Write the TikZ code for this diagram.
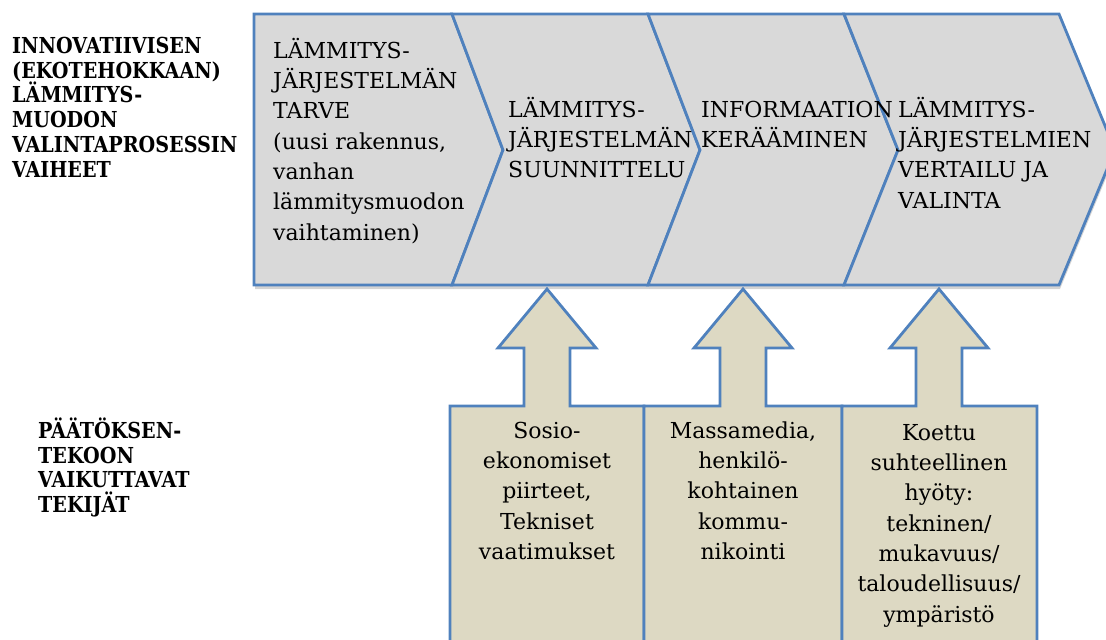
\documentclass[tikz,border=0pt]{standalone}
\usepackage{fontspec}
\setmainfont{DejaVu Serif}
\newfontfamily\sidefont[FakeStretch=0.87]{DejaVu Serif}
\usetikzlibrary{shadows}
\definecolor{chevfill}{HTML}{D9D9D9}
\definecolor{edgeblue}{HTML}{4F81BD}
\definecolor{tanfill}{HTML}{DDD9C3}
\newcommand{\toprule}[1]{\rule{0pt}{#1}}
\tikzset{
  chev/.style={fill=chevfill, draw=edgeblue, line width=2.8pt, line join=miter,
    drop shadow={opacity=0.35, shadow xshift=1pt, shadow yshift=-4pt}},
  factor/.style={fill=tanfill, draw=edgeblue, line width=2.8pt, line join=miter},
  chevtext/.style={anchor=north west, inner sep=0pt, align=left,
    font=\fontsize{22}{30.3}\selectfont},
  boxtext/.style={anchor=north, inner sep=0pt, align=center,
    font=\fontsize{22}{30.3}\selectfont},
  sidelabel/.style={anchor=north west, inner sep=0pt, align=left,
    font=\sidefont\fontsize{22}{24.8}\selectfont\bfseries},
}
\begin{document}
\begin{tikzpicture}[x=1pt,y=-1pt]
\useasboundingbox (0,0) rectangle (1106,640);
% chevrons
\draw[chev] (254,14) -- (452,14) -- (503,150) -- (452,285) -- (254,285) -- cycle;
\draw[chev] (452,14) -- (648,14) -- (700,150) -- (648,285) -- (452,285) -- (503,150) -- cycle;
\draw[chev] (648,14) -- (844,14) -- (898,150) -- (844,285) -- (648,285) -- (700,150) -- cycle;
\draw[chev] (844,14) -- (1059,14) -- (1115,150) -- (1059,285) -- (844,285) -- (898,150) -- cycle;
% chevron texts (first baseline = y + 22)
\node[chevtext] (c1) at (273,36) {\toprule{22pt}LÄMMITYS-\\JÄRJESTELMÄN\\TARVE\\(uusi rakennus,\\vanhan\\lämmitysmuodon\\vaihtaminen)};
\node[chevtext] (c2) at (508,95) {\toprule{22pt}LÄMMITYS-\\JÄRJESTELMÄN\\SUUNNITTELU};
\node[chevtext] (c3) at (701,95) {\toprule{22pt}INFORMAATION\\KERÄÄMINEN};
\node[chevtext] (c4) at (898,95) {\toprule{22pt}LÄMMITYS-\\JÄRJESTELMIEN\\VERTAILU JA\\VALINTA};
% factor boxes with arrows
\foreach \cx/\l/\r in {547/450/644, 743/644/842, 939/842/1037}{
  \draw[factor] (\l,645) -- (\l,406) -- (\cx-23,406) -- (\cx-23,348) -- (\cx-49,348)
    -- (\cx,289) -- (\cx+49,348) -- (\cx+23,348) -- (\cx+23,406) -- (\r,406) -- (\r,645);
}
\node[boxtext] (b1) at (547,416) {\toprule{22pt}Sosio-\\ekonomiset\\piirteet,\\Tekniset\\vaatimukset};
\node[boxtext] (b2) at (743,416) {\toprule{22pt}Massamedia,\\henkilö-\\kohtainen\\kommu-\\nikointi};
\node[boxtext] (b3) at (939,418) {\toprule{22pt}Koettu\\suhteellinen\\hyöty:\\tekninen/\\mukavuus/\\taloudellisuus/\\ympäristö};
% side labels (first baseline = y + 22)
\node[sidelabel] (s1) at (12,31) {\toprule{22pt}INNOVATIIVISEN\\(EKOTEHOKKAAN)\\LÄMMITYS-\\MUODON\\VALINTAPROSESSIN\\VAIHEET};
\node[sidelabel] (s2) at (38,416) {\toprule{22pt}PÄÄTÖKSEN-\\TEKOON\\VAIKUTTAVAT\\TEKIJÄT};
\end{tikzpicture}
\end{document}
